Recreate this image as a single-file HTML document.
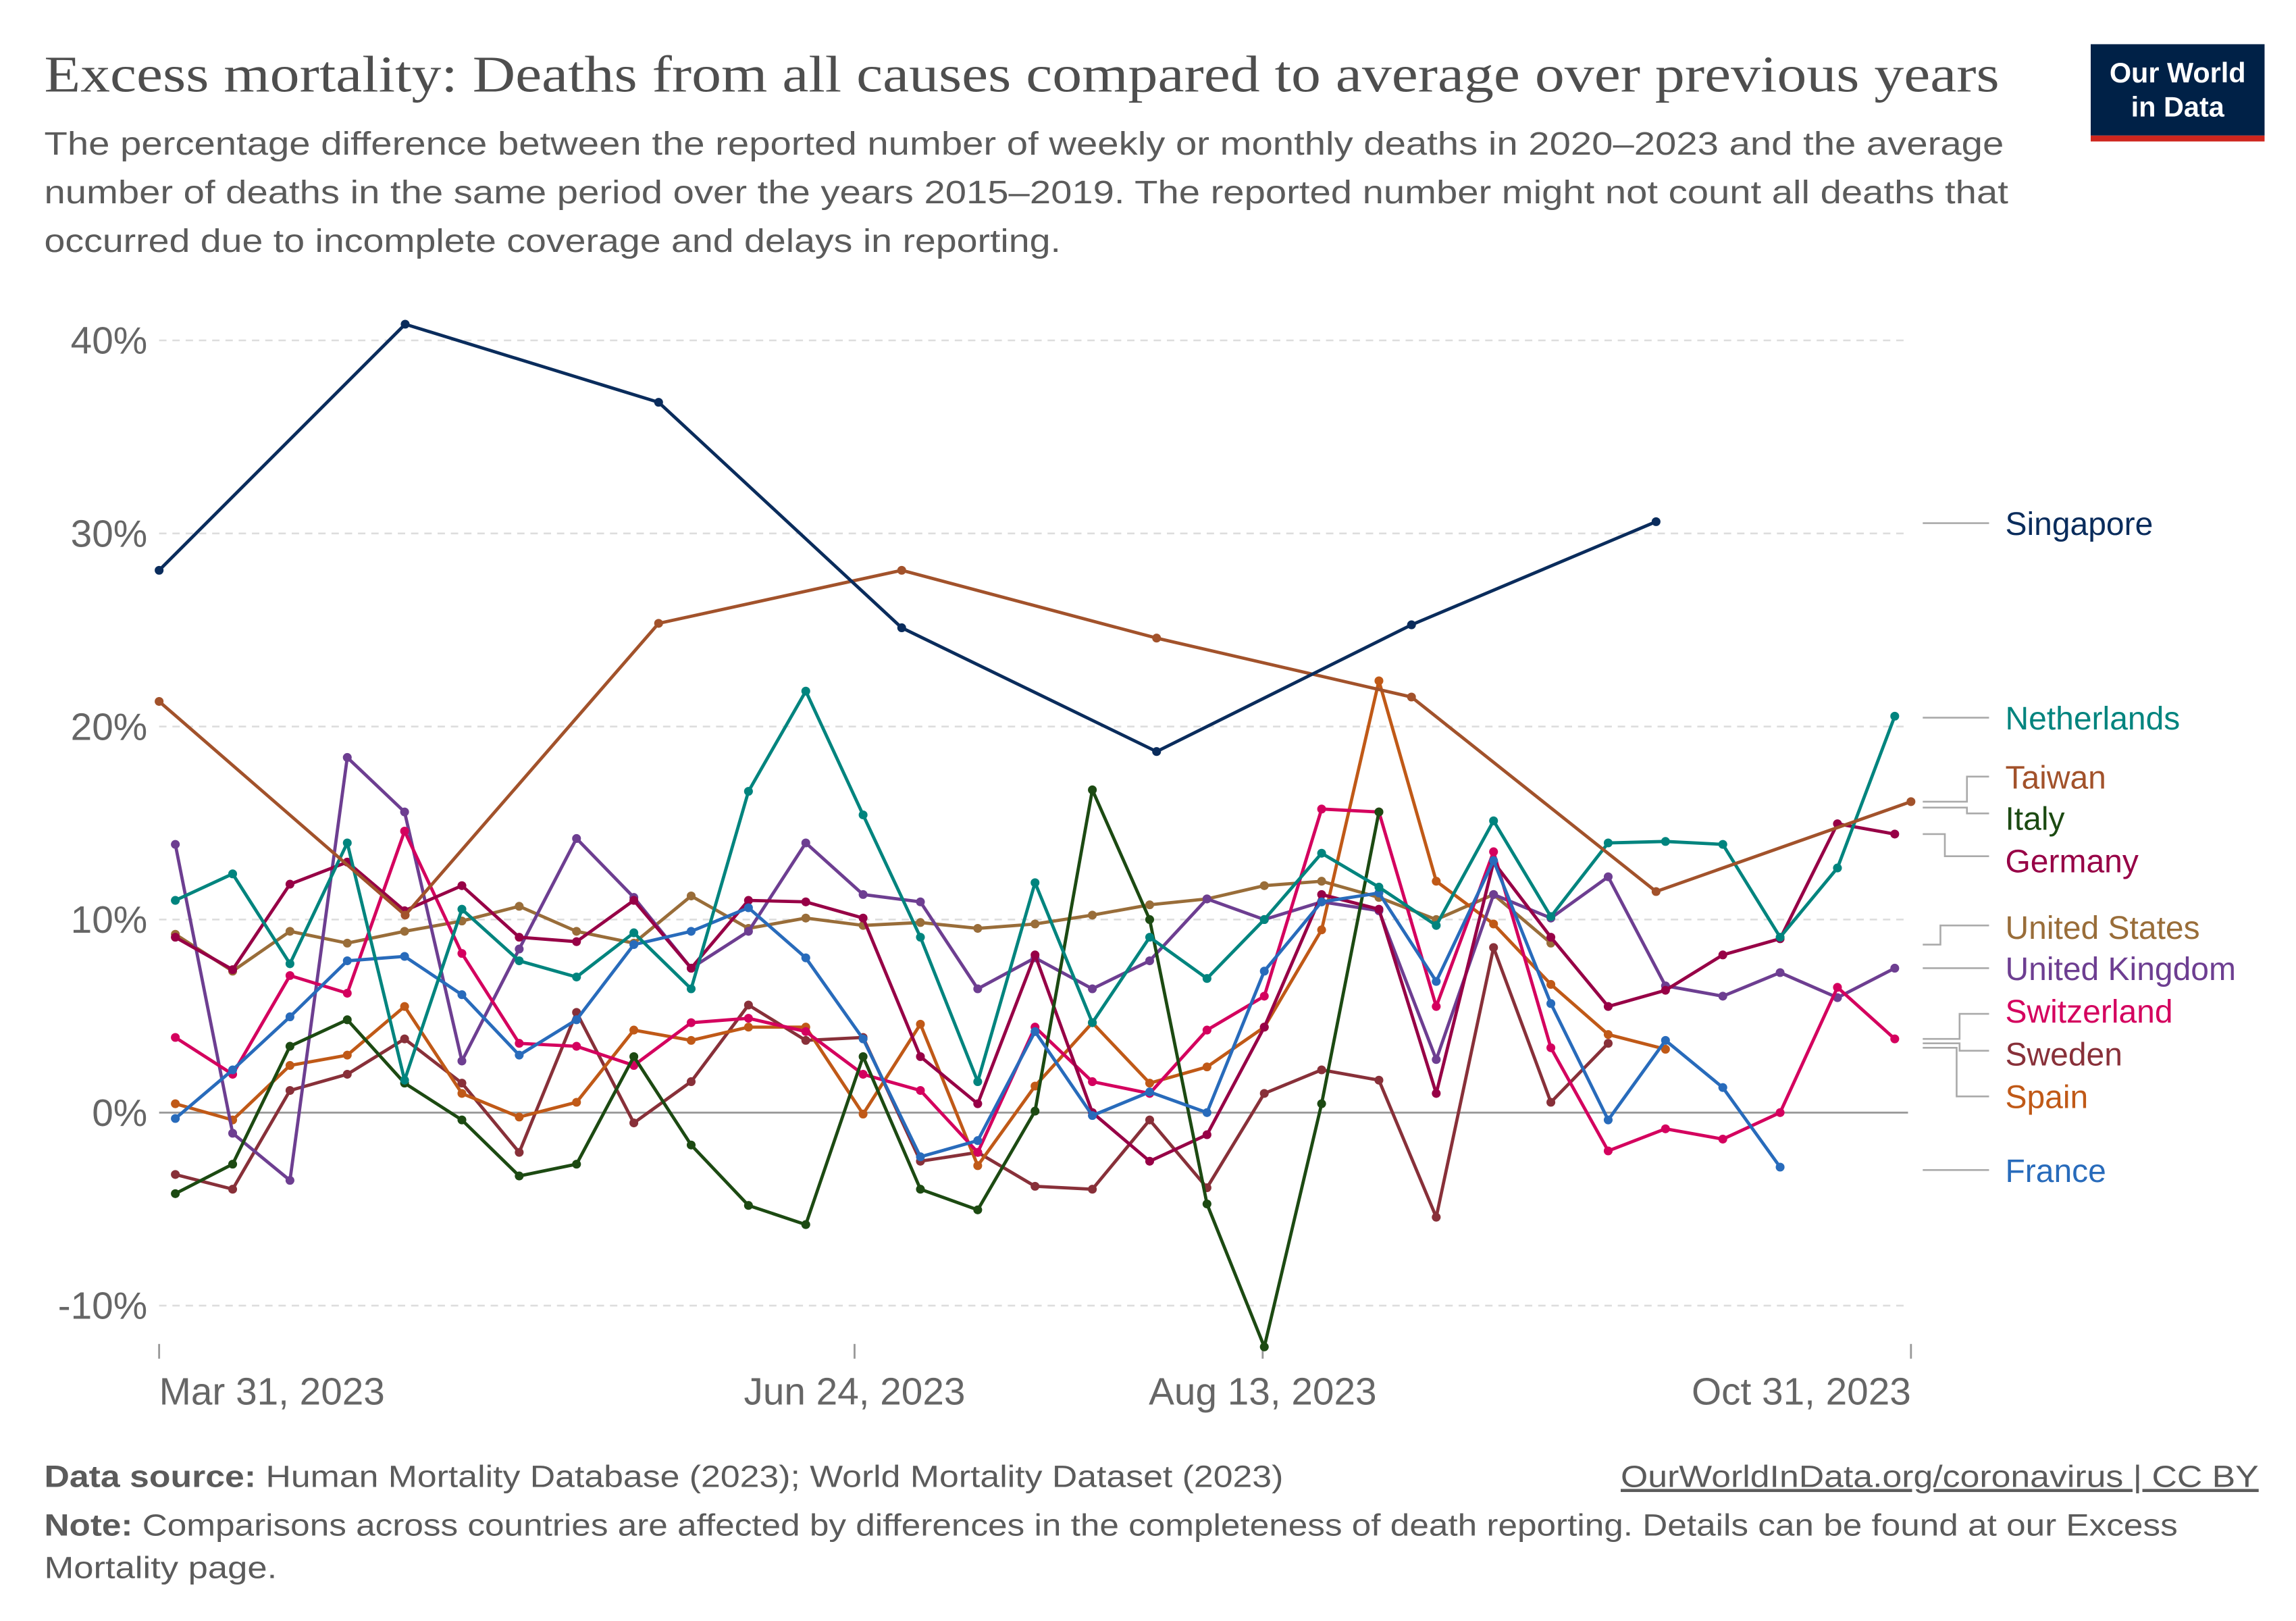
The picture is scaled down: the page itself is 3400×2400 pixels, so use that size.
<!DOCTYPE html>
<html><head><meta charset="utf-8"><style>
html,body{margin:0;padding:0;background:#fff;}
svg{display:block;}
text{font-family:"Liberation Sans",sans-serif;}
</style></head><body>
<svg id="s" width="3400" height="2400" viewBox="0 0 1558.33 1100" xmlns="http://www.w3.org/2000/svg">
<rect width="1558.33" height="1100" fill="#fff"/>
<text x="30" y="62" style="font-family:'Liberation Serif',serif" font-size="35" fill="#4e4e4e" textLength="1327" lengthAdjust="spacingAndGlyphs">Excess mortality: Deaths from all causes compared to average over previous years</text>
<g font-size="22" fill="#5b5b5b">
<text x="30" y="105" textLength="1330" lengthAdjust="spacingAndGlyphs">The percentage difference between the reported number of weekly or monthly deaths in 2020–2023 and the average</text>
<text x="30" y="138" textLength="1333" lengthAdjust="spacingAndGlyphs">number of deaths in the same period over the years 2015–2019. The reported number might not count all deaths that</text>
<text x="30" y="171" textLength="690" lengthAdjust="spacingAndGlyphs">occurred due to incomplete coverage and delays in reporting.</text>
</g>
<rect x="1419" y="30" width="118" height="62" fill="#002147"/>
<rect x="1419" y="92" width="118" height="4" fill="#ce261e"/>
<text x="1478" y="56" font-size="19" fill="#fff" text-anchor="middle" font-weight="bold">Our World</text>
<text x="1478" y="79" font-size="19" fill="#fff" text-anchor="middle" font-weight="bold">in Data</text>
<g stroke="#ddd" stroke-width="1.2" stroke-dasharray="5,4">
<line x1="108" x2="1295" y1="231" y2="231"/><line x1="108" x2="1295" y1="362" y2="362"/>
<line x1="108" x2="1295" y1="493" y2="493"/><line x1="108" x2="1295" y1="624" y2="624"/>
<line x1="108" x2="1295" y1="886" y2="886"/>
</g>
<line x1="108" x2="1295" y1="755" y2="755" stroke="#999" stroke-width="1.3"/>
<g font-size="26" fill="#666" text-anchor="end">
<text x="100" y="240">40%</text><text x="100" y="371">30%</text><text x="100" y="502">20%</text>
<text x="100" y="633">10%</text><text x="100" y="764">0%</text><text x="100" y="895">-10%</text>
</g>
<g stroke="#999" stroke-width="1.3">
<line x1="108" x2="108" y1="912" y2="922"/><line x1="580" x2="580" y1="912" y2="922"/>
<line x1="857" x2="857" y1="912" y2="922"/><line x1="1297" x2="1297" y1="912" y2="922"/>
</g>
<g font-size="26" fill="#666">
<text x="108" y="953">Mar 31, 2023</text>
<text x="580" y="953" text-anchor="middle">Jun 24, 2023</text>
<text x="857" y="953" text-anchor="middle">Aug 13, 2023</text>
<text x="1297" y="953" text-anchor="end">Oct 31, 2023</text>
</g>
<g id="series"></g>
<g stroke="#aaa" stroke-width="1.2" fill="none">
<polyline points="1305,355 1350,355"/>
<polyline points="1305,487 1350,487"/>
<polyline points="1305,544 1335,544 1335,527 1350,527"/>
<polyline points="1305,548 1335,548 1335,552 1350,552"/>
<polyline points="1305,566 1320,566 1320,581 1350,581"/>
<polyline points="1305,641 1317,641 1317,628 1350,628"/>
<polyline points="1305,657 1350,657"/>
<polyline points="1305,705 1330,705 1330,688 1350,688"/>
<polyline points="1305,708 1330,708 1330,713 1350,713"/>
<polyline points="1305,711 1328,711 1328,744 1350,744"/>
<polyline points="1305,794 1350,794"/>
</g>
<g font-size="22">
<text x="1361" y="363" fill="#0a2c5c">Singapore</text>
<text x="1361" y="495" fill="#00847e">Netherlands</text>
<text x="1361" y="535" fill="#a2522b">Taiwan</text>
<text x="1361" y="563" fill="#1c4a12">Italy</text>
<text x="1361" y="592" fill="#970046">Germany</text>
<text x="1361" y="637" fill="#996d39">United States</text>
<text x="1361" y="665" fill="#6d3e91">United Kingdom</text>
<text x="1361" y="694" fill="#d4005e">Switzerland</text>
<text x="1361" y="723" fill="#883039">Sweden</text>
<text x="1361" y="752" fill="#c05917">Spain</text>
<text x="1361" y="802" fill="#286bbb">France</text>
</g>
<g font-size="21" fill="#5b5b5b">
<text x="30" y="1009" textLength="841" lengthAdjust="spacingAndGlyphs"><tspan font-weight="bold">Data source:</tspan> Human Mortality Database (2023); World Mortality Dataset (2023)</text>
<text x="1533" y="1009" text-anchor="end" text-decoration="underline" textLength="433" lengthAdjust="spacingAndGlyphs">OurWorldInData.org/coronavirus | CC BY</text>
<text x="30" y="1042" textLength="1448" lengthAdjust="spacingAndGlyphs"><tspan font-weight="bold">Note:</tspan> Comparisons across countries are affected by differences in the completeness of death reporting. Details can be found at our Excess</text>
<text x="30" y="1071" textLength="158" lengthAdjust="spacingAndGlyphs">Mortality page.</text>
</g>
</svg>
<script>
var X=function(i){return 119+38.9*i;};
var W=function(a){return a.map(function(y,i){return [X(i),y];});};
var S=[
["#996d39",W([634,659,632,640,632,625,615,632,640,608,630,623,628,626,630,627,621,614,610,601,598,609,624,607,640])],
["#883039",W([797,807,740,729,705,735,782,687,762,734,682,706,704,788,782,805,807,760,806,742,726,733,826,643,748,708])],
["#c05917",W([749,760,723,716,683,742,758,748,699,706,697,697,756,695,791,737,694,735,724,697,631,462,598,627,668,702,712])],
["#6d3e91",W([573,769,801,514,551,720,644,569,609,657,632,572,607,612,671,650,671,652,610,624,612,618,719,607,623,595,669,676,660,677,657])],
["#d4005e",W([704,729,662,674,564,647,708,710,723,694,691,700,729,740,782,697,734,742,699,676,549,551,683,578,711,781,766,773,755,670,705])],
["#970046",W([636,658,600,585,618,601,636,639,611,657,611,612,623,717,749,648,755,788,770,697,607,617,742,585,636,683,672,648,637,559,566])],
["#1c4a12",W([810,790,710,692,735,760,798,790,717,777,818,831,717,807,821,754,536,624,817,914,749,551])],
["#286bbb",W([759,726,690,652,649,675,716,692,641,632,616,650,705,785,774,700,757,741,755,659,612,606,666,584,681,760,706,738,792])],
["#00847e",W([611,593,654,572,733,617,652,663,633,671,537,469,553,636,734,599,694,636,664,624,579,602,628,557,622,572,571,573,636,589,486])],
["#a2522b",[[108,476],[275,621],[447,423],[612,387],[785,433],[958,473],[1124,605],[1297,544]]],
["#0a2c5c",[[108,387],[275,220],[447,273],[612,426],[785,510],[958,424],[1124,354]]]
];
var g=document.getElementById("series"),h="";
S.forEach(function(s){
 h+='<polyline fill="none" stroke="'+s[0]+'" stroke-width="2.2" stroke-linejoin="round" points="'+s[1].map(function(p){return p[0].toFixed(1)+","+p[1];}).join(" ")+'"/>';
 s[1].forEach(function(p){h+='<circle cx="'+p[0].toFixed(1)+'" cy="'+p[1]+'" r="3" fill="'+s[0]+'"/>';});
});
g.innerHTML=h;
</script>
</body></html>
